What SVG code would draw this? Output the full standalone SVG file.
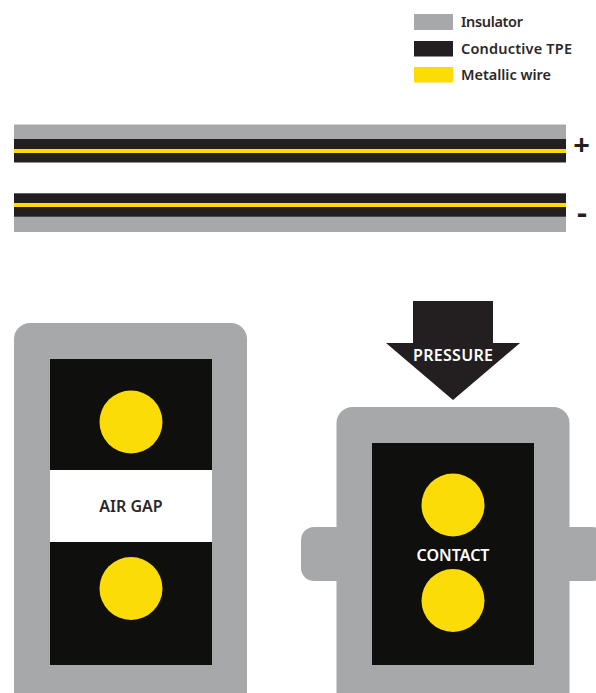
<svg xmlns="http://www.w3.org/2000/svg" width="596" height="693" viewBox="0 0 596 693">
<style>
.ins{fill:#a7a8aa}.tpe{fill:#231f20}.core{fill:#0f100e}.wire{fill:#fbdc07}
text{font-family:"Noto Sans","Open Sans","Liberation Sans",sans-serif;font-weight:600}
.lg{font-size:14.500px;fill:#2b2829}
.lab{font-size:16px;text-anchor:middle}
.sign{font-size:29px;font-weight:700;fill:#231f20;text-anchor:middle}
</style>
<rect width="596" height="693" fill="#fff"/>
<g id="legend">
<rect class="ins" x="414" y="14" width="39" height="16"/>
<rect class="tpe" x="414" y="41" width="39" height="15.500"/>
<rect class="wire" x="414" y="67" width="39" height="15.500"/>
<text class="lg" x="461" y="27" textLength="62">Insulator</text>
<text class="lg" x="461" y="54" textLength="111">Conductive TPE</text>
<text class="lg" x="461" y="80" textLength="90">Metallic wire</text>
</g>
<g id="cable-positive">
<rect class="ins" x="14" y="124.500" width="552" height="15"/>
<rect class="tpe" x="14" y="139" width="552" height="23.500"/>
<rect class="wire" x="14" y="149" width="552" height="4"/>
<text class="sign" x="581.500" y="154.500">+</text>
</g>
<g id="cable-negative">
<rect class="tpe" x="14" y="193.300" width="552" height="23.500"/>
<rect class="ins" x="14" y="217" width="552" height="15"/>
<rect class="wire" x="14" y="203" width="552" height="4"/>
<text class="sign" x="582" y="223" textLength="10" lengthAdjust="spacingAndGlyphs">-</text>
</g>
<g id="air-gap">
<rect class="ins" x="14" y="323" width="233" height="390" rx="16"/>
<rect class="core" x="50" y="359" width="162" height="306"/>
<rect x="50" y="470" width="162" height="72" fill="#fff"/>
<circle class="wire" cx="131" cy="422" r="31.500"/>
<circle class="wire" cx="131" cy="588.500" r="31.500"/>
<text class="lab" x="131" y="512" fill="#2b2829">AIR GAP</text>
</g>
<g id="contact">
<rect class="ins" x="301" y="527" width="60" height="54" rx="13"/>
<rect class="ins" x="545" y="527" width="60" height="54" rx="13"/>
<rect class="ins" x="336.500" y="407" width="233" height="320" rx="16"/>
<rect class="core" x="372" y="443" width="162" height="222"/>
<circle class="wire" cx="453" cy="505" r="31.500"/>
<circle class="wire" cx="453" cy="600.500" r="31.500"/>
<text class="lab" x="453" y="560.500" fill="#fff">CONTACT</text>
</g>
<g id="pressure">
<polygon class="tpe" points="413,301 493,301 493,343 520,343 453,400 386,343 413,343"/>
<text class="lab" x="453" y="360.500" fill="#fff" textLength="80">PRESSURE</text>
</g>
</svg>
